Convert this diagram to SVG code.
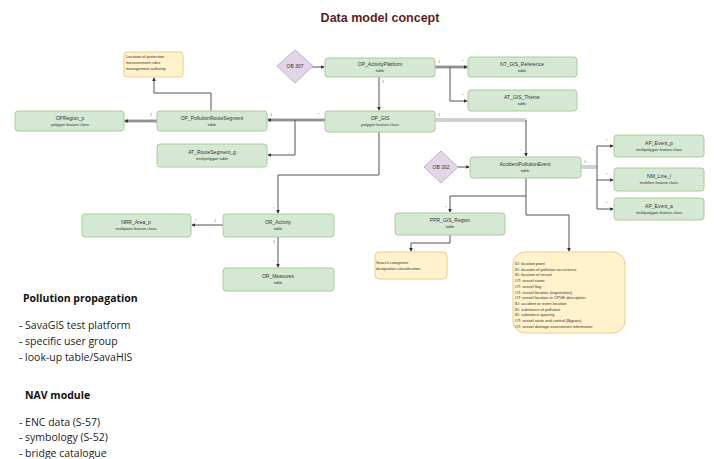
<svg xmlns="http://www.w3.org/2000/svg" width="714" height="459" viewBox="0 0 714 459">
<defs>
<style>
.g{fill:#d5e8d4;stroke:#a9cc98;stroke-width:1}
.y{fill:#fff2cc;stroke:#e6cf8a;stroke-width:1}
.d{fill:#e1d5e7;stroke:#c3aed0;stroke-width:1}
.t1{font-family:"Liberation Sans",Arial,sans-serif;font-size:5px;fill:#333;text-anchor:middle}
.t2{font-family:"Liberation Sans",Arial,sans-serif;font-size:4px;fill:#333;text-anchor:middle}
.ty{font-family:"Liberation Sans",Arial,sans-serif;font-size:4px;fill:#333}
.m{font-family:"Liberation Sans",Arial,sans-serif;font-size:4px;fill:#777}
.c{fill:none;stroke:#555;stroke-width:1}
.w{fill:none;stroke:#d0d0d0;stroke-width:4}
.h{font-family:"Open Sans","Liberation Sans",sans-serif;font-size:10.5px;font-weight:bold;fill:#111}
.l{font-family:"Open Sans","Liberation Sans",sans-serif;font-size:10.5px;fill:#222}
</style>
<marker id="a" viewBox="0 0 6 6" refX="5" refY="3" markerWidth="4" markerHeight="4" orient="auto"><path d="M0,0L6,3L0,6z" fill="#333"/></marker>
</defs>
<rect width="714" height="459" fill="#fff"/>
<text x="380" y="22" text-anchor="middle" font-family="Liberation Sans,Arial,sans-serif" font-size="12.5" font-weight="bold" fill="#5a1f1f">Data model concept</text>

<g id="connectors">
<path class="w" d="M124 121H157"/>
<path class="w" d="M267 120H325"/>
<path class="w" d="M435 67H468"/>
<path class="w" d="M435 120H526"/>
<path class="w" d="M581 167H597"/>
<path class="c" d="M211 111V93H154V78" marker-end="url(#a)"/>
<path class="c" d="M157 121H125" marker-end="url(#a)"/>
<path class="c" d="M325 120H268" marker-end="url(#a)"/>
<path class="c" d="M295 120V155H268" marker-end="url(#a)"/>
<path class="c" d="M310 67H324" marker-end="url(#a)"/>
<path class="c" d="M435 67H467" marker-end="url(#a)"/>
<path class="c" d="M450 67V101H467" marker-end="url(#a)"/>
<path class="c" d="M379 77V110" marker-end="url(#a)"/>
<path class="c" d="M526 120V156" marker-end="url(#a)"/>
<path class="c" d="M379 132V175H278V213" marker-end="url(#a)"/>
<path class="c" d="M223 225H192" marker-end="url(#a)"/>
<path class="c" d="M278 237V267" marker-end="url(#a)"/>
<path class="c" d="M458 167H469" marker-end="url(#a)"/>
<path class="c" d="M597 146V209"/>
<path class="c" d="M597 146H613" marker-end="url(#a)"/>
<path class="c" d="M597 180H613" marker-end="url(#a)"/>
<path class="c" d="M597 209H613" marker-end="url(#a)"/>
<path class="c" d="M526 178V196H450V212" marker-end="url(#a)"/>
<path class="c" d="M526 196V215H569V251" marker-end="url(#a)"/>
<path class="c" d="M450 235V243H411V251" marker-end="url(#a)"/>
<text class="m" x="150" y="116">1</text>
<text class="m" x="270" y="116">1</text>
<text class="m" x="318" y="116">*</text>
<text class="m" x="438" y="63">1</text>
<text class="m" x="462" y="63">*</text>
<text class="m" x="462" y="97">*</text>
<text class="m" x="382" y="83">1</text>
<text class="m" x="438" y="116">1</text>
<text class="m" x="520" y="152">*</text>
<text class="m" x="584" y="163">1</text>
<text class="m" x="606" y="142">*</text>
<text class="m" x="606" y="176">*</text>
<text class="m" x="606" y="205">*</text>
<text class="m" x="214" y="222">1</text>
<text class="m" x="195" y="222">*</text>
<text class="m" x="273" y="210">*</text>
<text class="m" x="273" y="243">1</text>
<text class="m" x="273" y="263">*</text>
<text class="m" x="445" y="209">*</text>
</g>

<g id="n-note1"><rect class="y" x="124" y="52" width="59" height="25" rx="3"/>
<text class="ty" x="126" y="58">Location of protection</text><text class="ty" x="126" y="64">measurement rules</text><text class="ty" x="126" y="70">management authority</text></g>
<g id="n-ob307"><path class="d" d="M295 50L313 66L295 83L277 66z"/><text class="t1" x="295" y="68">OB 307</text></g>
<g id="n-activity"><rect class="g" x="325" y="58" width="110" height="19" rx="3"/><text class="t1" x="380" y="66">OP_ActivityPlatform</text><text class="t2" x="380" y="72">table</text></g>
<g id="n-ref"><rect class="g" x="468" y="57" width="109" height="20" rx="3"/><text class="t1" x="522" y="66">NT_GIS_Reference</text><text class="t2" x="522" y="72">table</text></g>
<g id="n-theme"><rect class="g" x="468" y="90" width="109" height="21" rx="3"/><text class="t1" x="522" y="99">AT_GIS_Theme</text><text class="t2" x="522" y="105">table</text></g>
<g id="n-gis"><rect class="g" x="325" y="111" width="110" height="21" rx="3"/><text class="t1" x="380" y="120">OP_GIS</text><text class="t2" x="380" y="126">polygon feature class</text></g>
<g id="n-route"><rect class="g" x="157" y="111" width="110" height="20" rx="3"/><text class="t1" x="212" y="120">OP_PollutionRouteSegment</text><text class="t2" x="212" y="126">table</text></g>
<g id="n-region"><rect class="g" x="15" y="111" width="109" height="20" rx="3"/><text class="t1" x="70" y="120">OPRegion_p</text><text class="t2" x="70" y="126">polygon feature class</text></g>
<g id="n-segment"><rect class="g" x="157" y="144" width="110" height="23" rx="3"/><text class="t1" x="212" y="154">AT_RouteSegment_g</text><text class="t2" x="212" y="160">multipolygon table</text></g>
<g id="n-ob302"><path class="d" d="M441 151L458 167L441 183L424 167z"/><text class="t1" x="441" y="169">OB 302</text></g>
<g id="n-event"><rect class="g" x="470" y="157" width="111" height="21" rx="3"/><text class="t1" x="525" y="166">AccidentPollutionEvent</text><text class="t2" x="525" y="172">table</text></g>
<g id="n-r1"><rect class="g" x="614" y="135" width="90" height="22" rx="3"/><text class="t1" x="659" y="145">AP_Event_p</text><text class="t2" x="659" y="151">multipolygon feature class</text></g>
<g id="n-r2"><rect class="g" x="614" y="168" width="90" height="23" rx="3"/><text class="t1" x="659" y="178">NM_Line_l</text><text class="t2" x="659" y="184">multiline feature class</text></g>
<g id="n-r3"><rect class="g" x="614" y="198" width="90" height="22" rx="3"/><text class="t1" x="659" y="208">AP_Event_a</text><text class="t2" x="659" y="214">multipolygon feature class</text></g>
<g id="n-ppr"><rect class="g" x="395" y="213" width="110" height="22" rx="3"/><text class="t1" x="450" y="222">PPR_GIS_Region</text><text class="t2" x="450" y="228">table</text></g>
<g id="n-note2"><rect class="y" x="375" y="252" width="72" height="27" rx="4"/><text class="ty" x="376" y="264">Search categories</text><text class="ty" x="376" y="270">designation classification</text></g>
<g id="n-note3"><rect class="y" x="513" y="252" width="112" height="81" rx="12"/>
<text class="ty" x="515" y="265">ID: location point</text>
<text class="ty" x="515" y="270.7">ID: location of pollution occurrence</text>
<text class="ty" x="515" y="276.4">ID: location of vessel</text>
<text class="ty" x="515" y="282.1">OT: vessel name</text>
<text class="ty" x="515" y="287.8">OT: vessel flag</text>
<text class="ty" x="515" y="293.5">OT: vessel location (registration)</text>
<text class="ty" x="515" y="299.2">OT: vessel location in CPUE description</text>
<text class="ty" x="515" y="304.9">ID: accident or event location</text>
<text class="ty" x="515" y="310.6">ID: substance of pollutant</text>
<text class="ty" x="515" y="316.3">ID: substance quantity</text>
<text class="ty" x="515" y="322">OT: vessel route and control (Bypass)</text>
<text class="ty" x="515" y="327.7">OT: vessel damage assessment information</text></g>
<g id="n-oract"><rect class="g" x="223" y="214" width="111" height="23" rx="3"/><text class="t1" x="278" y="224">OR_Activity</text><text class="t2" x="278" y="230">table</text></g>
<g id="n-area"><rect class="g" x="82" y="214" width="109" height="23" rx="3"/><text class="t1" x="136" y="224">NRR_Area_p</text><text class="t2" x="136" y="230">multipoint feature class</text></g>
<g id="n-oract2"><rect class="g" x="223" y="268" width="111" height="23" rx="3"/><text class="t1" x="278" y="278">OR_Measures</text><text class="t2" x="278" y="284">table</text></g>

<g id="notes">
<text class="h" x="23" y="302">Pollution propagation</text>
<text class="l" x="19" y="329">- SavaGIS test platform</text>
<text class="l" x="19" y="345">- specific user group</text>
<text class="l" x="19" y="361">- look-up table/SavaHIS</text>
<text class="h" x="25" y="399">NAV module</text>
<text class="l" x="19" y="426">- ENC data (S-57)</text>
<text class="l" x="19" y="441">- symbology (S-52)</text>
<text class="l" x="19" y="457">- bridge catalogue</text>
</g>
</svg>
